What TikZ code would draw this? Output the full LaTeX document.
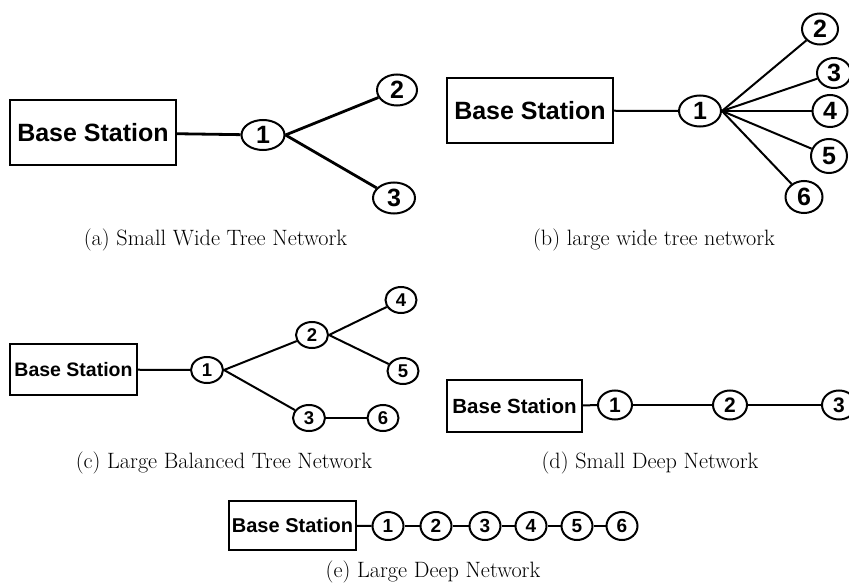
\documentclass[tikz,border=0pt]{standalone}
\usepackage{fontspec}
\newfontfamily\arial{Liberation Sans}
\usetikzlibrary{shapes.geometric}
\tikzset{
  bsbox/.style n args={3}{draw, line width=2.2pt, rectangle, inner sep=0pt,
    minimum width=#1, minimum height=#2,
    font=\arial\bfseries\fontsize{#3}{#3}\selectfont},
  nd/.style n args={3}{draw, ellipse, line width=2pt, inner sep=0pt,
    minimum width=#1, minimum height=#2,
    font=\arial\bfseries\fontsize{#3}{#3}\selectfont},
  thick link/.style={line width=2.8pt},
  link/.style={line width=2pt},
  captxt/.style={anchor=base, font=\fontsize{22.2}{26}\selectfont}
}
\begin{document}
\begin{tikzpicture}[x=1pt,y=-1pt]
\useasboundingbox (0,0) rectangle (849,583);
% (a)
\node[bsbox={166pt}{65pt}{25}] (bsA) at (93,132.5) {Base Station};
\node[nd={43pt}{30pt}{25}] (a1) at (263,135) {1};
\node[nd={40pt}{31pt}{25}] (a2) at (397,90) {2};
\node[nd={42pt}{31pt}{25}] (a3) at (394,198) {3};
\draw[thick link] (bsA) -- (a1);
\draw[thick link] (a1.east) -- (a2);
\draw[thick link] (a1.east) -- (a3);
\node[captxt] (capA) at (215.5,245) {(a) Small Wide Tree Network};
% (b)
\node[bsbox={166pt}{65pt}{25}] (bsB) at (530,110.5) {Base Station};
\node[nd={42pt}{31pt}{25}] (b1) at (700,111) {1};
\node[nd={36pt}{31pt}{25}] (b2) at (820,29) {2};
\node[nd={34pt}{30pt}{25}] (b3) at (834,73) {3};
\node[nd={35pt}{32pt}{25}] (b4) at (830,111) {4};
\node[nd={36pt}{34pt}{25}] (b5) at (829,156) {5};
\node[nd={37pt}{32pt}{25}] (b6) at (804,197) {6};
\draw[link] (bsB) -- (b1);
\foreach \k in {2,...,6} { \draw[link] (b1.east) -- (b\k); }
\node[captxt] (capB) at (654,245) {(b) large wide tree network};
% (c)
\node[bsbox={127pt}{51pt}{19.5}] (bsC) at (73.5,369.5) {Base Station};
\node[nd={32pt}{26pt}{18.5}] (c1) at (207,370) {1};
\node[nd={32pt}{26pt}{18.5}] (c2) at (312,335) {2};
\node[nd={31pt}{26pt}{18.5}] (c4) at (401,300) {4};
\node[nd={31pt}{26pt}{18.5}] (c5) at (403,371) {5};
\node[nd={32pt}{26pt}{18.5}] (c3) at (309,418) {3};
\node[nd={31pt}{26pt}{18.5}] (c6) at (383,418) {6};
\draw[link] (bsC) -- (c1);
\draw[link] (c1.east) -- (c2);
\draw[link] (c1.east) -- (c3);
\draw[link] (c2.east) -- (c4);
\draw[link] (c2.east) -- (c5);
\draw[link] (c3) -- (c6);
\node[captxt] (capC) at (224,468) {(c) Large Balanced Tree Network};
% (d)
\node[bsbox={135pt}{52pt}{20.5}] (bsD) at (514.5,406) {Base Station};
\node[nd={34pt}{29pt}{21}] (d1) at (615,405) {1};
\node[nd={34pt}{29pt}{21}] (d2) at (730,405) {2};
\node[nd={34pt}{29pt}{21}] (d3) at (839,405) {3};
\draw[link] (bsD) -- (d1);
\draw[link] (d1) -- (d2);
\draw[link] (d2) -- (d3);
\node[captxt] (capD) at (650,468) {(d) Small Deep Network};
% (e)
\node[bsbox={127pt}{49pt}{20}] (bsE) at (292.5,525.5) {Base Station};
\node[nd={31pt}{28pt}{19}] (e1) at (388,526) {1};
\node[nd={31pt}{28pt}{19}] (e2) at (436,526) {2};
\node[nd={31pt}{28pt}{19}] (e3) at (485,526) {3};
\node[nd={31pt}{28pt}{19}] (e4) at (531,526) {4};
\node[nd={31pt}{28pt}{19}] (e5) at (577,526) {5};
\node[nd={31pt}{28pt}{19}] (e6) at (622,526) {6};
\draw[link] (bsE) -- (e1);
\draw[link] (e1) -- (e2);
\draw[link] (e2) -- (e3);
\draw[link] (e3) -- (e4);
\draw[link] (e4) -- (e5);
\draw[link] (e5) -- (e6);
\node[captxt] (capE) at (433,577) {(e) Large Deep Network};
\end{tikzpicture}
\end{document}
